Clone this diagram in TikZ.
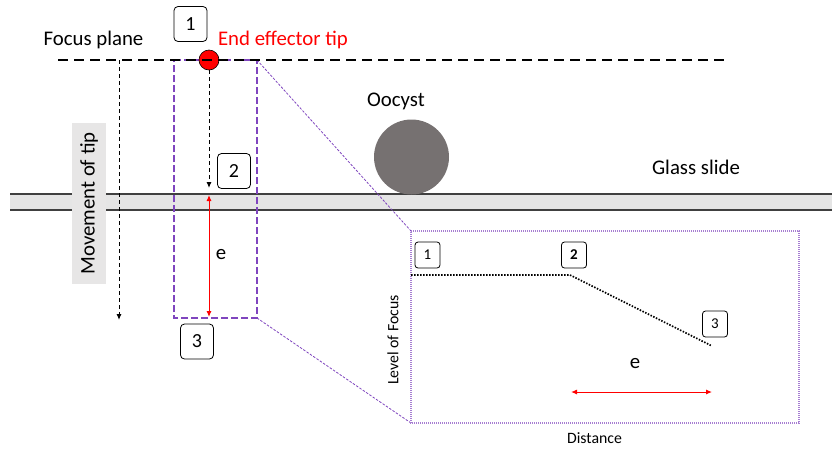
\documentclass[tikz,border=0pt]{standalone}
\usepackage{fontspec}
\setmainfont{Carlito}
\usetikzlibrary{arrows.meta}
\definecolor{purp}{HTML}{7F45BE}
\definecolor{lightpurp}{HTML}{A77ED2}
\definecolor{slidegray}{HTML}{E5E5E5}
\definecolor{slideline}{HTML}{404040}
\definecolor{oocyte}{HTML}{767171}
\definecolor{movgray}{HTML}{E7E6E6}
\tikzset{
  numbox/.style={draw=black, line width=0.8pt, rounded corners=4pt, minimum width=33pt, minimum height=35pt, inner sep=0pt, font=\fontsize{20}{22}\selectfont},
  smallbox/.style={draw=black, line width=0.8pt, rounded corners=3pt, minimum width=25pt, minimum height=26pt, inner sep=0pt, font=\fontsize{15}{17}\selectfont},
  bigtext/.style={font=\fontsize{20.8}{24}\selectfont, inner sep=0pt},
  smalltext/.style={font=\fontsize{15.8}{18}\selectfont, inner sep=0pt},
  blackdash/.style={black, line width=1pt, dash pattern=on 4pt off 3pt, -{Latex[length=6pt,width=5pt]}},
  redarrow/.style={red, line width=1pt, {Latex[length=6pt,width=5pt]}-{Latex[length=6pt,width=5pt]}},
  purpdash/.style={purp, line width=1.2pt, dash pattern=on 7pt off 3pt},
  purpdot/.style={purp, line width=0.8pt, dash pattern=on 2.5pt off 1.5pt},
  insetdot/.style={lightpurp, line width=1.5pt, dash pattern=on 1.2pt off 0.8pt},
}
\begin{document}
\begin{tikzpicture}[x=1pt,y=-1pt]
\useasboundingbox (0,0) rectangle (832,448);
% glass slide
\fill[slidegray] (10,194) rectangle (832,210);
\draw[slideline, line width=1.2pt] (10,194) -- (832,194);
\draw[slideline, line width=1.2pt] (10,210) -- (832,210);
% oocyst
\fill[oocyte] (411.5,157) circle (37.5);
\node[bigtext] (oolabel) at (396,101) {Oocyst};
\node[bigtext] (glass) at (696,167) {Glass slide};
% purple dashed rectangle
\coordinate (rtl) at (174,60);
\coordinate (rtr) at (257,60);
\coordinate (rbr) at (257,318);
\coordinate (rbl) at (174,318);
\draw[purpdash] (rtl) -- (rtr) -- (rbr) -- (rbl) -- cycle;
% inset box
\coordinate (itl) at (411,231);
\coordinate (itr) at (799,231);
\coordinate (ibr) at (799,423);
\coordinate (ibl) at (411,423);
\draw[purpdot] (rtr) -- (itl);
\draw[purpdot] (rbr) -- (ibl);
\draw[insetdot] (itl) -- (itr) -- (ibr) -- (ibl) -- cycle;
% movement of tip
\coordinate (mvtop) at (119,60);
\coordinate (mvbot) at (119,320);
\draw[blackdash] (mvtop) -- (mvbot);
\node[bigtext, fill=movgray, rotate=90, minimum width=161pt, minimum height=34pt] (mov) at (89,203.5) {Movement of tip};
% end effector tip
\node[circle, fill=red, draw=black, line width=0.6pt, minimum size=20pt, inner sep=0pt] (tip) at (209,60) {};
% focus plane
\coordinate (fpl) at (58,60);
\coordinate (fpr) at (725,60);
\draw[black, line width=2pt, dash pattern=on 10pt off 6pt] (fpl) -- (fpr);
\node[bigtext] (fplabel) at (93.5,40) {Focus plane};
\node[bigtext, text=red] (tiplabel) at (283,40) {End effector tip};
% step boxes
\node[numbox] (b1) at (190.5,24) {1};
\node[numbox] (b2) at (234,171) {2};
\node[numbox] (b3) at (197,341.5) {3};
% tip movement arrow
\coordinate (tipdown) at (209,188);
\draw[blackdash] (tip.south) -- (tipdown);
% e arrow
\coordinate (etop) at (209,195);
\coordinate (ebot) at (209,317);
\draw[redarrow] (etop) -- (ebot);
\node[bigtext] (elabel) at (221,255) {e};
% inset content
\node[smallbox] (s1) at (427.5,255) {1};
\node[smallbox, font=\fontsize{15}{17}\selectfont\bfseries] (s2) at (574,255) {2};
\node[smallbox] (s3) at (715,324) {3};
\coordinate (p1) at (411,275);
\coordinate (p2) at (570,275);
\coordinate (p3) at (712,346);
\draw[black, line width=1.6pt, dash pattern=on 1.5pt off 1.5pt] (p1) -- (p2) -- (p3);
\node[bigtext] (e2label) at (635,364) {e};
\coordinate (e2l) at (571,392);
\coordinate (e2r) at (712,392);
\draw[redarrow] (e2l) -- (e2r);
\node[smalltext] (dist) at (594.5,438) {Distance};
\node[smalltext, rotate=90] (lof) at (393,340) {Level of Focus};
\end{tikzpicture}
\end{document}
